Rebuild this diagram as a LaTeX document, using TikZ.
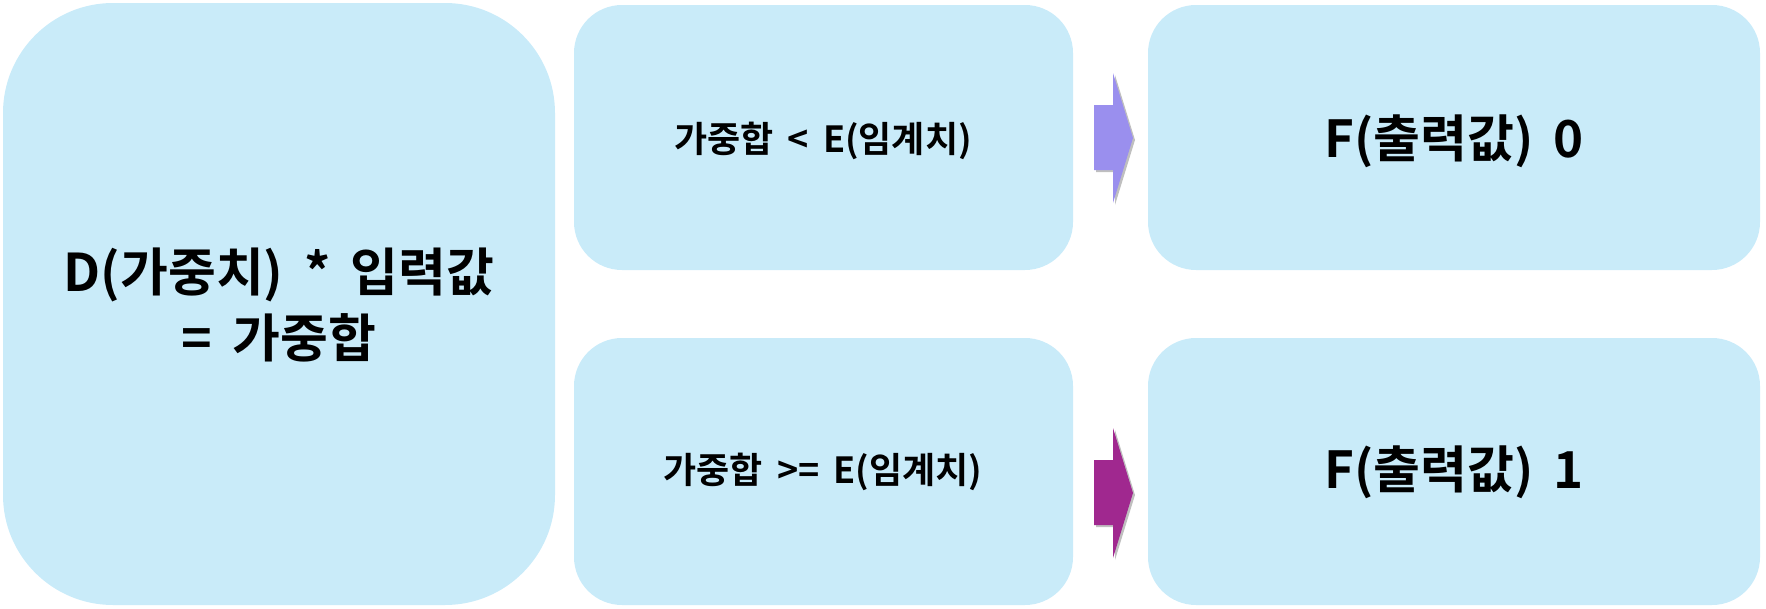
\documentclass[tikz,border=0pt]{standalone}
\usepackage{fontspec}
\newfontfamily\kr{Noto Sans CJK KR}[BoldFont={Noto Sans CJK KR Bold}]
\usetikzlibrary{shadows}
\definecolor{boxfill}{HTML}{C9EBF9}
\definecolor{arrowlow}{HTML}{9A8FEE}
\definecolor{arrowhigh}{HTML}{A0288F}
\begin{document}
\begin{tikzpicture}[x=1pt, y=-1pt, font=\kr\bfseries,
  bigbox/.style = {fill=boxfill, rounded corners=110pt},
  smallbox/.style = {fill=boxfill, rounded corners=48pt},
  arrowshape/.style = {drop shadow={shadow xshift=2pt, shadow yshift=-2pt, opacity=0.5}}]
  \useasboundingbox (0,0) rectangle (1766,608);
  % boxes
  \path[bigbox] (3,3) rectangle (555,605);
  \path[smallbox] (574,5) rectangle (1073,270);
  \path[smallbox] (574,338) rectangle (1073,605);
  \path[smallbox] (1148,5) rectangle (1760,270);
  \path[smallbox] (1148,338) rectangle (1760,605);
  % texts
  \node[align=center, font=\kr\bfseries\fontsize{52}{66}\selectfont] (sum) at (279,305) {D(가중치)\, *\, 입력값\\=\, 가중합};
  \node[font=\kr\bfseries\fontsize{36}{42}\selectfont] (low) at (823,141) {가중합\, <\, E(임계치)};
  \node[font=\kr\bfseries\fontsize{36}{42}\selectfont] (high) at (823,472) {가중합\, >=\, E(임계치)};
  \node[font=\kr\bfseries\fontsize{51}{60}\selectfont] (zero) at (1454,141) {F(출력값)\, 0};
  \node[font=\kr\bfseries\fontsize{51}{60}\selectfont] (one) at (1454,472) {F(출력값)\, 1};
  % arrows
  \fill[arrowlow, arrowshape] (1094,105) -- (1113,105) -- (1113,73) -- (1133,138) -- (1113,203) -- (1113,170) -- (1094,170) -- cycle;
  \fill[arrowhigh, arrowshape] (1094,460) -- (1113,460) -- (1113,428) -- (1133,493) -- (1113,558) -- (1113,525) -- (1094,525) -- cycle;
\end{tikzpicture}
\end{document}
